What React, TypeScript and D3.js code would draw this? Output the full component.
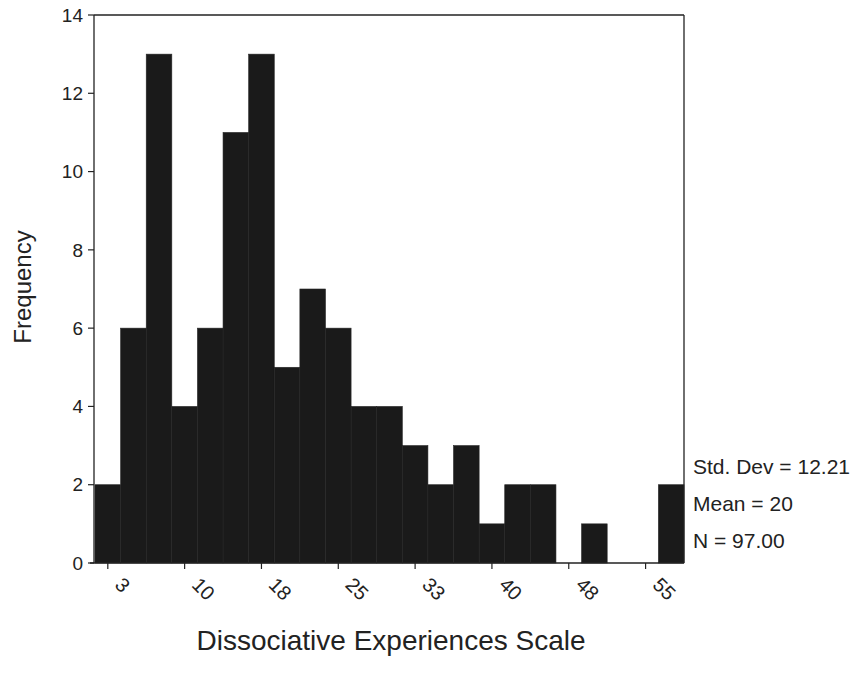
import React from "react";
import * as d3 from "d3";

// Histogram data: 23 bins of width 2.5, first bin centred on 2.5
const binStart = 1.25;
const binWidth = 2.5;
const counts = [2, 6, 13, 4, 6, 11, 13, 5, 7, 6, 4, 4, 3, 2, 3, 1, 2, 2, 0, 1, 0, 0, 2];
const xTickValues = [2.5, 10, 17.5, 25, 32.5, 40, 47.5, 55];
const xTickLabels = ["3", "10", "18", "25", "33", "40", "48", "55"];
const yTickValues = [0, 2, 4, 6, 8, 10, 12, 14];
const statsLines = ["Std. Dev = 12.21", "Mean = 20", "N = 97.00"];
const xTitle = "Dissociative Experiences Scale";
const yTitle = "Frequency";

const W = 858;
const H = 674;
const left = 94;
const right = 684;
const top = 15;
const bottom = 563;
const font = "'Liberation Sans', Arial, Helvetica, sans-serif";

export default function App() {
  const x = d3
    .scaleLinear()
    .domain([binStart, binStart + binWidth * counts.length])
    .range([left + 1, right]);
  const y = d3.scaleLinear().domain([0, 14]).range([bottom, top]);

  const bins = counts.map((c, i) => ({ x0: binStart + i * binWidth, x1: binStart + (i + 1) * binWidth, c }));

  return (
    <svg width={W} height={H} style={{ position: "absolute", left: 0, top: 0, background: "#fff" }}>
      <rect x={0} y={0} width={W} height={H} fill="#fff" />
      {/* bars */}
      {bins.map((b, i) =>
        b.c > 0 ? (
          <rect
            key={i}
            x={x(b.x0)}
            y={y(b.c)}
            width={x(b.x1) - x(b.x0)}
            height={y(0) - y(b.c)}
            fill="#1a1a1a"
            stroke="#262626"
            strokeWidth={0.6}
          />
        ) : null
      )}
      {/* frame */}
      <line x1={left} y1={top} x2={right} y2={top} stroke="#222" strokeWidth={1.3} />
      <line x1={right} y1={top} x2={right} y2={bottom} stroke="#222" strokeWidth={1.3} />
      <line x1={left} y1={top} x2={left} y2={bottom} stroke="#222" strokeWidth={1.3} />
      <line x1={left - 4} y1={bottom} x2={right} y2={bottom} stroke="#222" strokeWidth={1.3} />
      {/* y ticks */}
      {yTickValues.map((v) => (
        <g key={v}>
          <line x1={left - 6} x2={left} y1={y(v)} y2={y(v)} stroke="#222" strokeWidth={1.2} />
          <text
            x={left - 11}
            y={y(v)}
            dy="0.35em"
            textAnchor="end"
            fontFamily={font}
            fontSize={19}
            fill="#222"
          >
            {v}
          </text>
        </g>
      ))}
      {/* x ticks */}
      {xTickValues.map((v, i) => (
        <g key={v}>
          <line x1={x(v)} x2={x(v)} y1={bottom} y2={bottom + 6} stroke="#222" strokeWidth={1.2} />
          <text
            transform={`translate(${x(v) + 6},${bottom + 23}) rotate(45)`}
            textAnchor="start"
            fontFamily={font}
            fontSize={20}
            fill="#222"
          >
            {xTickLabels[i]}
          </text>
        </g>
      ))}
      {/* stats */}
      {statsLines.map((s, i) => (
        <text key={s} x={693} y={474 + i * 37} fontFamily={font} fontSize={21} fill="#222">
          {s}
        </text>
      ))}
      {/* titles */}
      <text x={391} y={650} textAnchor="middle" fontFamily={font} fontSize={28} fill="#222">
        {xTitle}
      </text>
      <text
        transform={`translate(31,287) rotate(-90)`}
        textAnchor="middle"
        fontFamily={font}
        fontSize={24}
        fill="#222"
      >
        {yTitle}
      </text>
    </svg>
  );
}
